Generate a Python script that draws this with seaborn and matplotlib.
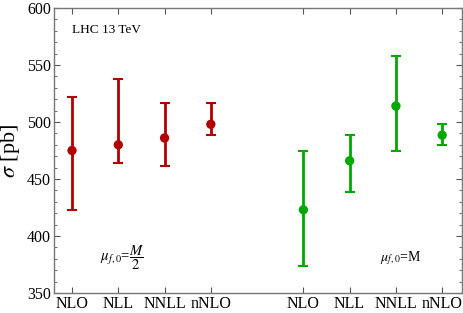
import numpy as np
import pandas as pd
import seaborn as sns
import matplotlib.pyplot as plt
from matplotlib.ticker import MultipleLocator

# cross sections (pb)
orders = ["NLO", "NLL", "NNLL", "nNLO"]
x_half = [1, 2, 3, 4]
x_full = [6, 7, 8, 9]

sigma_half = [475, 480, 486, 498]
lo_half = [423, 464, 461, 488.5]
hi_half = [522, 538, 517, 517]

sigma_full = [423, 466, 514, 488.5]
lo_full = [373.5, 439, 475, 480]
hi_full = [475, 489, 557.5, 498]

RED = "#b00000"
GREEN = "#00a800"

sns.set_style("ticks")
plt.rcParams["font.family"] = ["Liberation Serif", "DejaVu Serif"]
plt.rcParams["mathtext.fontset"] = "stix"
plt.rcParams["text.color"] = "black"
plt.rcParams["axes.labelcolor"] = "black"

df = pd.DataFrame({
    "x": x_half + x_full,
    "sigma": sigma_half + sigma_full,
    "lo": lo_half + lo_full,
    "hi": hi_half + hi_full,
    "scale": ["M/2"] * 4 + ["M"] * 4,
})

fig = plt.figure(figsize=(4.63, 3.13), dpi=100)
ax = fig.add_axes([0.1166, 0.0639, 0.8814, 0.9105])

for scale, col in [("M/2", RED), ("M", GREEN)]:
    d = df[df["scale"] == scale]
    ax.errorbar(d["x"], d["sigma"],
                yerr=[d["sigma"] - d["lo"], d["hi"] - d["sigma"]],
                fmt="none", ecolor=col, elinewidth=2, capsize=3.5, capthick=1.5)
sns.scatterplot(data=df, x="x", y="sigma", hue="scale",
                palette={"M/2": RED, "M": GREEN}, s=45, edgecolor="none",
                legend=False, ax=ax, zorder=3)

ax.set_xlim(0.61, 9.43)
ax.set_ylim(350, 600)
ax.set_xticks(x_half + x_full)
ax.set_xticklabels(orders + orders, fontsize=11.5)
ax.yaxis.set_major_locator(MultipleLocator(50))
ax.yaxis.set_minor_locator(MultipleLocator(10))
ax.tick_params(axis="y", labelsize=11.5)
ax.tick_params(which="both", direction="in", top=True, right=True,
               color="#555555", labelcolor="black", pad=2)
ax.tick_params(which="major", length=4, width=0.8)
ax.tick_params(which="minor", length=2, width=0.6)
ax.tick_params(axis="x", which="minor", top=False, bottom=False)
for sp in ax.spines.values():
    sp.set_color("#777777")
    sp.set_linewidth(1.0)

ax.set_xlabel("")
ax.set_ylabel(r"$\sigma$ [pb]", fontsize=16, labelpad=4)

ax.text(1.0, 578, "LHC 13 TeV", fontsize=9.5)
ax.text(1.6, 381, r"$\mu_{f,0}$=$\dfrac{M}{2}$", fontsize=10.5, va="center")
ax.text(7.65, 381, r"$\mu_{f,0}$=M", fontsize=10, va="center")

fig.savefig("out.png", dpi=100)
